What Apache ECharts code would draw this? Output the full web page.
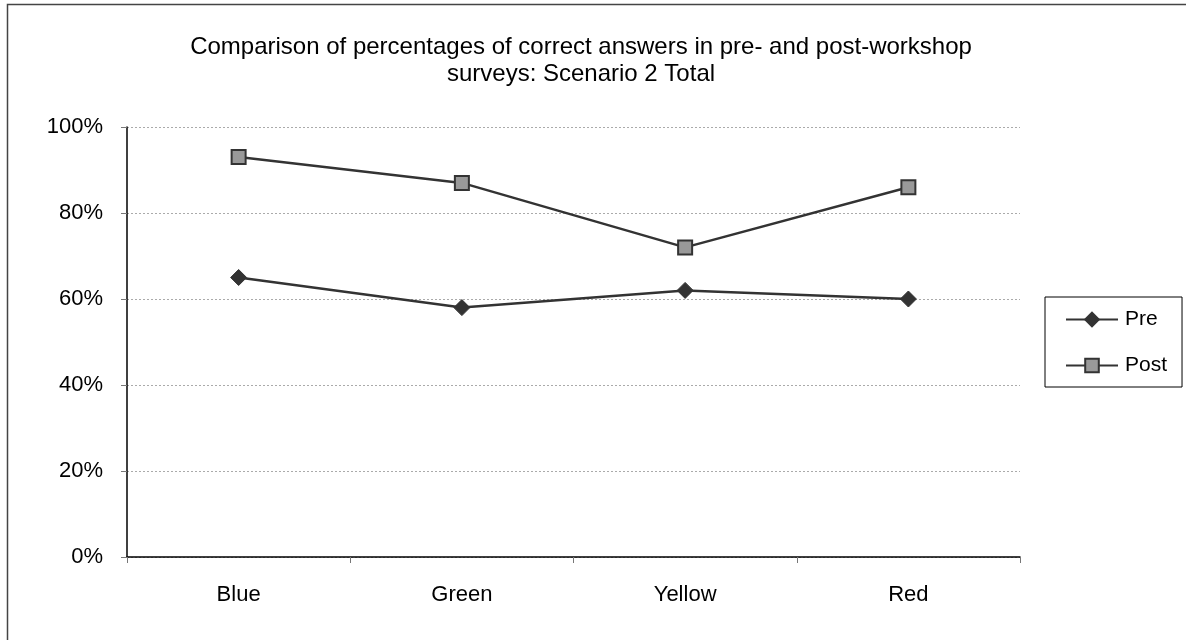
<!DOCTYPE html>
<html>
<head>
<meta charset="utf-8">
<script src="https://cdn.jsdelivr.net/npm/echarts@6/dist/echarts.min.js"></script>
<style>
  html, body { margin: 0; padding: 0; background: #fff; }
  #chart { width: 1186px; height: 640px; }
</style>
</head>
<body>
<div id="chart"></div>
<script>
// Survey groups along the x axis
const categories = ['Blue', 'Green', 'Yellow', 'Red'];
// Share of correct answers (fraction of 1)
const preValues = [0.65, 0.58, 0.62, 0.60];
const postValues = [0.93, 0.87, 0.72, 0.86];
const titleText = 'Comparison of percentages of correct answers in pre- and post-workshop\nsurveys: Scenario 2 Total';

const FONT = '"Liberation Sans", Arial, sans-serif';
const chart = echarts.init(document.getElementById('chart'), null, { renderer: 'canvas' });

chart.setOption({
  backgroundColor: '#ffffff',
  animation: false,
  title: {
    text: titleText,
    left: 576,
    top: 29,
    textAlign: 'center',
    textStyle: { fontFamily: FONT, fontSize: 24, fontWeight: 'normal', color: '#000', lineHeight: 27 }
  },
  graphic: [{
    type: 'rect',
    shape: { x: 7.5, y: 4.5, width: 1200, height: 700 },
    style: { fill: 'none', stroke: '#444', lineWidth: 1.5 },
    silent: true
  }],
  legend: {
    orient: 'vertical',
    left: 1045,
    top: 297,
    padding: [12, 15, 11, 20],
    itemGap: 25,
    itemWidth: 52,
    itemHeight: 17,
    borderColor: '#000',
    borderWidth: 1,
    textStyle: { fontFamily: FONT, fontSize: 21, lineHeight: 21, color: '#000', padding: [0, 0, 0, 2] },
    data: ['Pre', 'Post']
  },
  grid: { left: 127, right: 166, top: 127, bottom: 83, containLabel: false },
  xAxis: {
    type: 'category',
    data: categories,
    boundaryGap: true,
    axisLine: { lineStyle: { color: '#000', width: 1.5 } },
    axisTick: { show: true, length: 6, lineStyle: { color: '#777' } },
    axisLabel: { fontFamily: FONT, fontSize: 22, color: '#000', margin: 27 }
  },
  yAxis: {
    type: 'value',
    min: 0,
    max: 1,
    interval: 0.2,
    axisLine: { show: true, lineStyle: { color: '#000', width: 1.5 } },
    axisTick: { show: true, length: 6, lineStyle: { color: '#777' } },
    axisLabel: {
      fontFamily: FONT, fontSize: 22, color: '#000', margin: 24,
      formatter: v => Math.round(v * 100) + '%'
    },
    splitLine: { show: true, lineStyle: { color: '#aaa', type: [2, 2], width: 1 } }
  },
  series: [
    {
      name: 'Pre',
      type: 'line',
      data: preValues,
      symbol: 'diamond',
      symbolSize: 16,
      lineStyle: { color: '#333', width: 2.5 },
      itemStyle: { color: '#333', borderColor: '#333', borderWidth: 1 }
    },
    {
      name: 'Post',
      type: 'line',
      data: postValues,
      symbol: 'rect',
      symbolSize: 14,
      lineStyle: { color: '#333', width: 2.5 },
      itemStyle: { color: '#999', borderColor: '#333', borderWidth: 2 }
    }
  ]
});
</script>
</body>
</html>
